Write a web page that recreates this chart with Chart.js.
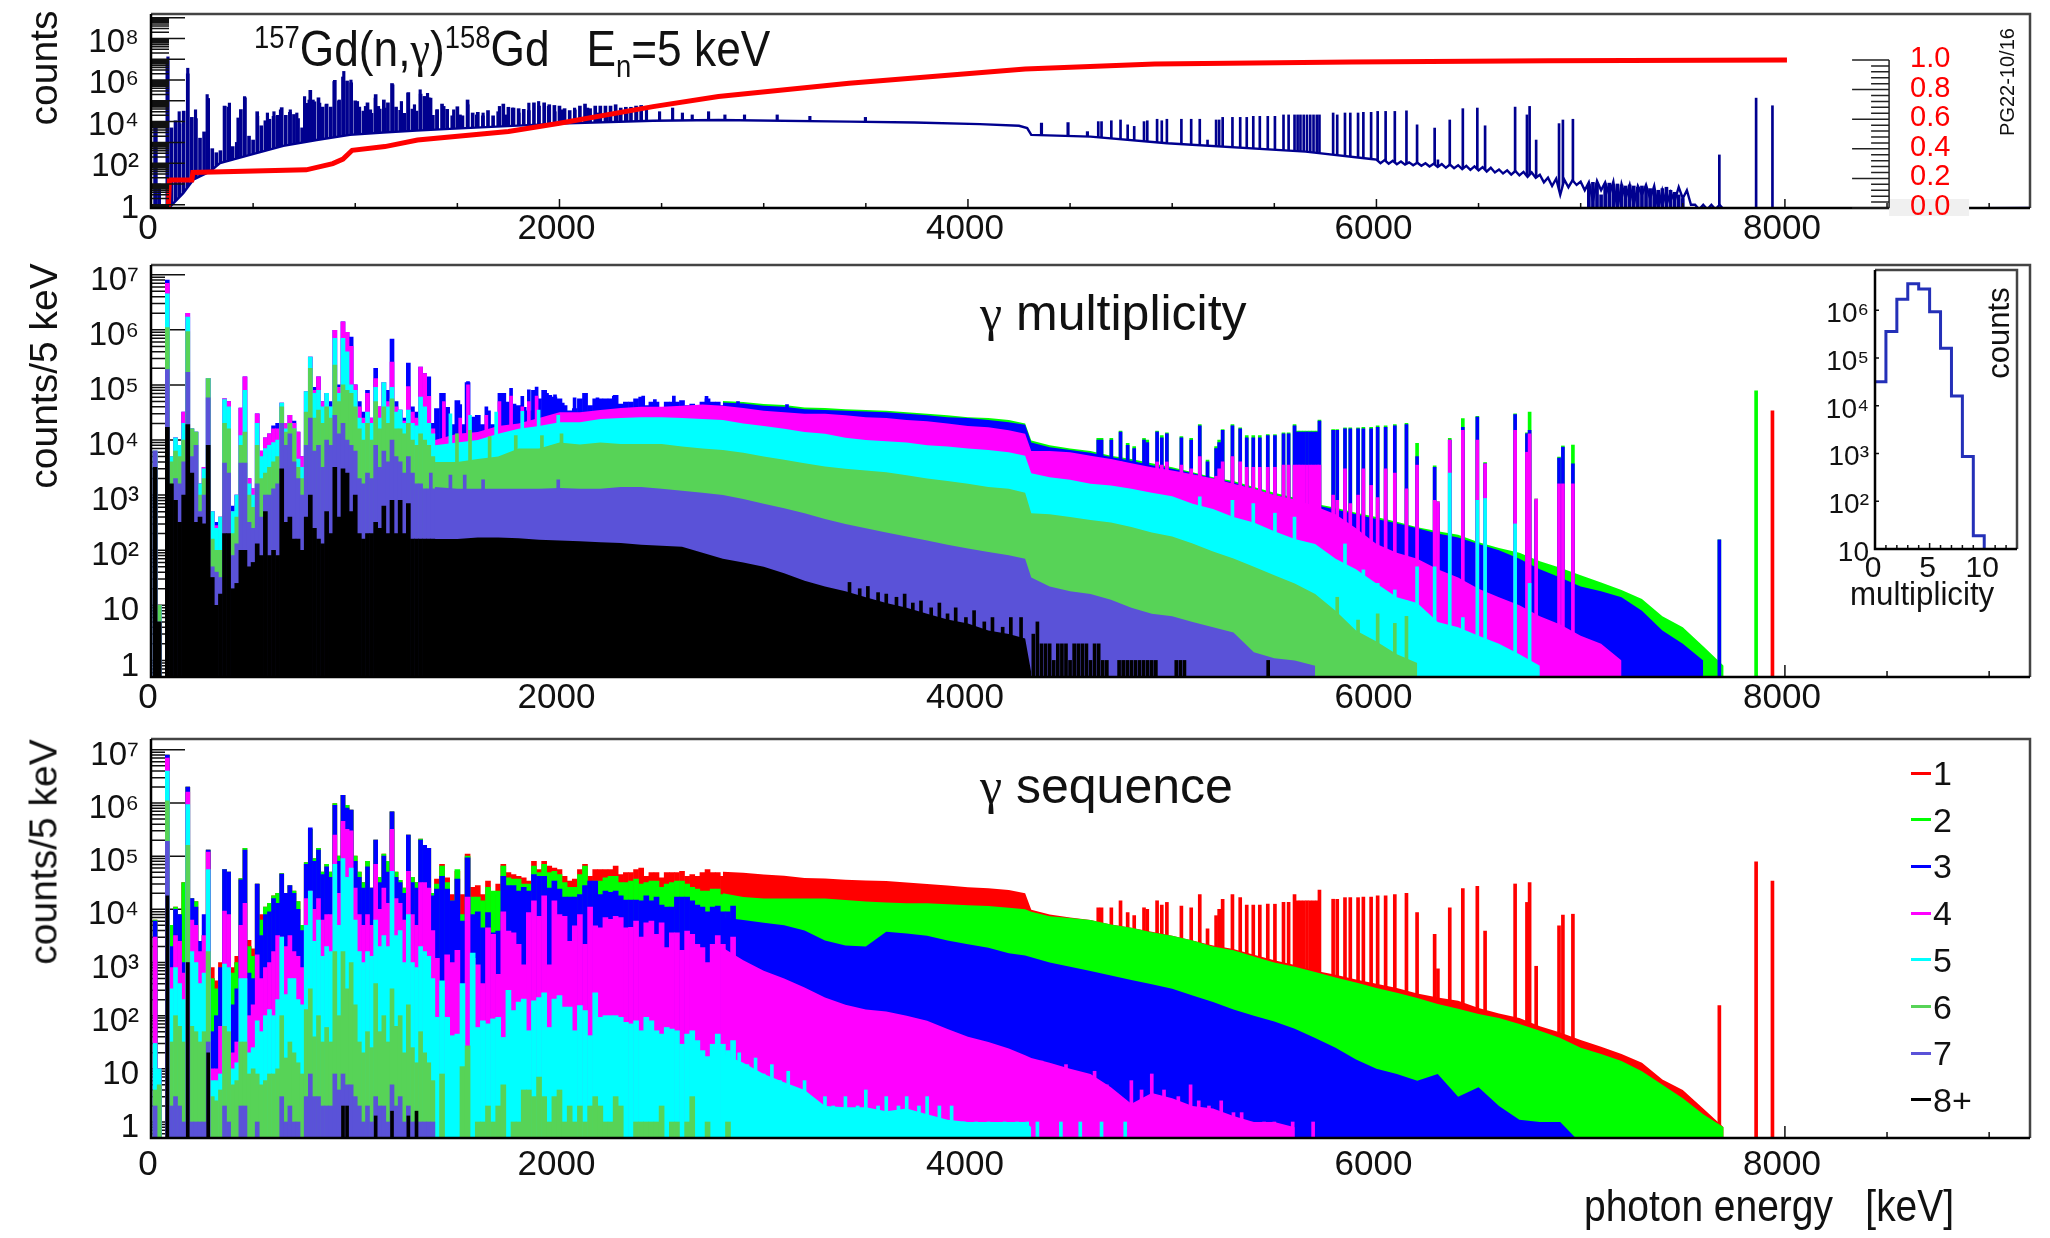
<!DOCTYPE html>
<html>
<head>
<meta charset="utf-8">
<title>157Gd(n,gamma)158Gd</title>
<script src="https://cdn.jsdelivr.net/npm/chart.js@4/dist/chart.umd.min.js"></script>
<style>
  html, body { margin: 0; background: #fff; }
  #page { position: relative; width: 2050px; height: 1238px; overflow: hidden; }
  canvas { position: absolute; }
  .t { position: absolute; white-space: pre; color: #111; font-family: "Liberation Sans", sans-serif; line-height: 1; transform-origin: left center; }
  .rot { transform-origin: center; transform: translate(-50%, -50%) rotate(-90deg); }
  .g { font-family: "Liberation Serif", serif; }
  sup, sub { font-size: 62%; line-height: 0; }
</style>
</head>
<body>
<div id="page">
  <canvas id="top" width="2050" height="250" style="left:0;top:0"></canvas>
  <canvas id="mid" width="2050" height="470" style="left:0;top:250px"></canvas>
  <canvas id="bot" width="2050" height="518" style="left:0;top:720px"></canvas>
  <canvas id="inset" width="230" height="320" style="left:1800px;top:260px"></canvas>
  <div class="t" style="left:254px;top:24px;font-size:50px;transform:scaleX(.885)"><sup>157</sup>Gd(n,<span class="g">γ</span>)<sup>158</sup>Gd   E<sub>n</sub>=5 keV</div>
  <div class="t" style="left:980px;top:288px;font-size:50px"><span class="g">γ</span> multiplicity</div>
  <div class="t" style="left:980px;top:761px;font-size:50px"><span class="g">γ</span> sequence</div>
  <div class="t rot" style="left:43px;top:68px;font-size:39px">counts</div>
  <div class="t rot" style="left:43px;top:376px;font-size:39px">counts/5 keV</div>
  <div class="t rot" style="left:43px;top:852px;font-size:39px">counts/5 keV</div>
  <div class="t rot" style="left:2007px;top:82px;font-size:20px">PG22-10/16</div>
  <div class="t" style="left:1584px;top:1183px;font-size:45px;transform:scaleX(.865)">photon energy   [keV]</div>
  <div class="t" style="left:1850px;top:576px;font-size:34px;transform:scaleX(.92)">multiplicity</div>
  <div class="t rot" style="left:1998px;top:333px;font-size:31px">counts</div>
</div>
<script>
/* --------------- Axis ticks and labels --------------------- */
const xMax = 9200;
const xTicks = [0, 2000, 4000, 6000, 8000];
const topYTicks = [1, 1e2, 1e4, 1e6, 1e8];
const fracTicks = [0, 0.2, 0.4, 0.6, 0.8, 1];
const specYTicks = [1, 10, 1e2, 1e3, 1e4, 1e5, 1e6, 1e7];
const insetYTicks = [10, 1e2, 1e3, 1e4, 1e5, 1e6];
const insetXTicks = [0, 5, 10];
const seqNames = ["1", "2", "3", "4", "5", "6", "7", "8+"];
const seqColors = ["#ff0000", "#00ff00", "#0000ff", "#ff00ff", "#00ffff", "#57d357", "#5a52d8", "#000000"];

/* --------------- Low energy bins, 20 keV apart (69 values per series) --------------------- */
const lowE = [20,40,60,80,100,120,140,160,180,200,220,240,260,280,300,320,340,360,380,400,420,440,460,480,500,520,540,560,580,600,620,640,660,680,700,720,740,760,780,800,820,840,860,880,900,920,940,960,980,1000,1020,1040,1060,1080,1100,1120,1140,1160,1180,1200,1220,1240,1260,1280,1300,1320,1340,1360,1380];
const lowTop = [6.3e3,10,0,8e6,5e3,1.1e4,8e3,3.2e4,2e6,1.6e4,1.4e4,1.6e3,3.2e3,1.3e5,500,320,400,5.6e4,5e4,630,1e3,3.8e4,1.4e5,2e3,1.3e3,3e4,6.3e3,1.1e4,1.3e4,1.8e4,2e4,4.7e4,2e4,2.8e4,2.2e4,1.4e4,5e3,7.6e4,3.2e5,9e4,1.4e5,5e4,7e4,5e4,9.8e5,1e5,1.4e6,9e5,7.4e5,1e5,5e4,3.2e4,8e4,2.5e4,2e5,4e4,1.1e5,8e4,6.8e5,5e4,3.5e4,2.5e4,2.5e5,4e4,3.2e4,2.1e5,1.6e5,1.4e5,2e4];
const lowM4 = [6.3e3,10,0,7e6,5e3,1.1e4,8e3,3.2e4,2e6,1.6e4,1.4e4,1.6e3,3.2e3,1.3e5,500,280,400,5.6e4,5e4,500,1e3,3.8e4,1.4e5,2e3,1.3e3,3e4,6.3e3,1.1e4,1.3e4,1.6e4,1.6e4,4.7e4,2e4,2.8e4,2e4,1.4e4,5e3,7.6e4,3.2e5,8e4,1.4e5,5e4,7e4,4e4,9.8e5,9e4,1.4e6,9e5,5e5,1e5,4e4,2.5e4,7e4,2.5e4,1.3e5,4e4,1.1e5,5e4,2.6e5,4e4,3.5e4,2.2e4,9.3e4,3.2e4,2.5e4,2.1e5,1.6e5,6.2e4,1.6e4];
const lowM5 = [6.3e3,10,0,4.5e6,5e3,1.1e4,8e3,2e4,1.7e6,1.6e4,1.4e4,1.6e3,3e3,1.3e5,500,250,400,5.4e4,4e4,500,1e3,1.2e4,8e4,1.6e3,1e3,2e4,5e3,7e3,8e3,9e3,1e4,4.7e4,1.6e4,2e4,1.6e4,4.5e3,3.2e3,7.6e4,3.2e5,7e4,8e4,4e4,7e4,4e4,7e5,7e4,7e5,4e5,1e5,8e4,2.5e4,2e4,3.2e4,2e4,9e4,2.5e4,1.1e5,4e4,9e4,3.2e4,3.5e4,2e4,3.5e4,2e4,1.8e4,6e4,4e4,2e4,1.3e4];
const lowM6 = [6.3e3,10,0,1.1e6,4e3,6.3e3,5e3,1e4,9.3e5,1.6e4,1.4e4,1e3,2e3,1.3e5,160,100,100,2e4,1.6e4,200,400,8e3,1.4e4,1e3,600,8e3,2e3,2.5e3,3.2e3,4e3,5e3,4e4,1.4e4,2e4,1.6e4,3.2e3,2e3,3.2e4,2e5,2.5e4,3.5e4,2e4,4e4,2.5e4,2.3e5,5e4,1e5,8e4,7e4,4e4,1.6e4,1e4,2e4,1e4,5e4,1.6e4,4e4,2e4,5.6e4,1.6e4,1.6e4,1.3e4,2e4,1e4,8e3,1.3e4,1e4,8e3,5e3];
const lowM7 = [6.3e3,5,0,1.9e5,1e3,2e3,1.6e3,4e3,1.7e5,5e3,8e3,500,1e3,5.8e4,50,40,32,3.8e3,2.5e3,80,130,3.8e3,3.8e3,320,250,1.6e3,400,1e3,1e3,1.3e3,1.6e3,2e4,8e3,1.3e4,4e3,2e3,1e3,8e3,2.5e4,6.3e3,8e3,3.2e3,1e4,8e3,2.8e4,1.3e4,2e4,1e4,8e3,6.3e3,2e3,1.6e3,2.5e3,2e3,8e3,3.2e3,6.3e3,4e3,1e4,5e3,4e3,2.5e3,5e3,2.5e3,1.6e3,1.6e3,1.3e3,1.3e3,1.3e3];
const lowM8 = [3.2e3,5,0,1.7e4,1.6e3,800,320,1e3,1.9e4,2.5e3,320,400,300,8e3,32,10,16,200,200,20,25,100,100,50,60,130,80,500,80,100,80,3e3,320,400,160,160,100,400,1e3,250,160,130,500,200,3.2e3,400,3e3,2.5e3,500,1e3,200,160,200,200,320,250,630,200,800,200,800,200,700,160,160,160,160,160,160];
const lowS3 = [6e3,10,0,8e6,2e3,1e4,8e3,1e3,2e6,1.6e4,1.1e4,2.5e3,8e3,1.3e5,50,100,800,5.6e4,5e4,160,320,3.6e4,1.3e5,630,500,3e4,3.2e3,8e3,9e3,1.6e4,1.3e4,4.6e4,2e4,2.8e4,2e4,1e4,4e3,7e4,3.4e5,8e4,1.3e5,4.5e4,6.3e4,4e4,9e5,8e4,1.4e6,8e5,7.4e5,8e4,4e4,2.5e4,6.3e4,2.5e4,2e5,3.2e4,1e5,5e4,6.8e5,4e4,3.2e4,2e4,2.5e5,3.2e4,2.5e4,2e5,1.6e5,1.4e5,1.8e4];
const lowS4 = [3e3,10,0,7e6,800,3.2e3,2.5e3,630,1.6e6,6.3e3,5e3,1.6e3,3.2e3,1.2e5,10,10,63,9.3e3,8e3,20,32,5e3,1.3e4,100,160,1.4e3,500,800,1e3,1.6e3,3.2e3,3e3,2e3,3.2e3,1.6e3,1.3e3,800,1.6e4,2.2e4,1e4,1.6e4,6.3e3,8e3,8e3,2.5e5,2e4,4.5e5,3.2e5,3e5,2.5e4,8e3,5e3,8e3,5e3,7e4,1e4,2.5e4,1.3e4,3.2e5,1.6e4,1.3e4,6.3e3,5.2e4,8e3,5e3,3.2e4,3.2e4,2.5e4,4e3];
const lowS5 = [30,10,0,4e6,320,800,400,200,9.3e5,1.6e3,1e3,400,630,5.6e4,6,6,8,930,800,10,13,500,500,20,25,80,50,100,130,100,200,3e3,250,500,500,200,160,5e3,2.2e4,2.5e3,6.3e3,1.3e3,2e3,1.6e3,7e4,5e3,9e4,4e4,6e4,6.3e3,1.6e3,1e3,1.6e3,1.3e3,6.3e3,2e3,3.2e3,2e3,5.2e4,3.2e3,4e3,1e3,8e3,1e3,800,2e3,1.6e3,1.3e3,500];
const lowS6 = [4,5,0,1.1e6,32,100,63,32,1.6e5,63,50,32,50,1.6e3,3,2.5,4,63,50,5,6,32,32,8,10,8,5,6,8,8,10,100,16,32,20,13,8,130,320,40,100,32,60,32,1.6e3,100,1.6e3,320,1e3,160,32,20,50,25,400,50,100,32,320,63,100,20,160,25,13,50,20,13,6];
const lowS7 = [2,0,0,1.9e5,2,3,2,1,1e3,1,1,1,1,32,0,0,0,2,1,0,0,2,2,0,0,1,0,0,0,0,0,3,1,2,1,1,0,3,8,3,3,2,2,2,8,4,8,5,5,3,2,1,2,1,3,2,2,1,5,2,3,1,2,1,1,1,1,1,1];
const seq8E = [80, 180, 280, 940, 960, 1100, 1180, 1260, 1300];
const seq8H = [1.8e4, 1e3, 20, 2, 2, 1.3, 1.6, 1.3, 1.6];
const seqRedE = [300, 320, 340, 400, 420, 480, 500, 540];
const seqRedH = [800, 450, 1e3, 800, 1.3e3, 2.6e3, 1.8e3, 8e3];

/* --------------- Jagged middle range, 25 keV apart (60 values per series) --------------------- */
const midE = [1375,1400,1425,1450,1475,1500,1525,1550,1575,1600,1625,1650,1675,1700,1725,1750,1775,1800,1825,1850,1875,1900,1925,1950,1975,2000,2025,2050,2075,2100,2125,2150,2175,2200,2225,2250,2275,2300,2325,2350,2375,2400,2425,2450,2475,2500,2525,2550,2575,2600,2625,2650,2675,2700,2725,2750,2775,2800,2825,2850];
const midTop = [1.9e4,3.7e4,7e4,3.9e4,1.9e4,5.2e4,1.9e4,1.1e5,2.6e4,2.8e4,
  1.9e4,3.4e4,1.9e4,3e4,7e4,4.9e4,4.5e4,4.2e4,3.9e4,3.4e4,
  8e4,5.6e4,8e4,6.5e4,6e4,5.6e4,4.2e4,3.4e4,3.7e4,5.6e4,
  7e4,4.2e4,5.6e4,5.6e4,5.6e4,5.6e4,6.5e4,4.5e4,4.9e4,4.9e4,
  5.6e4,6e4,4.2e4,4.9e4,4.9e4,3.9e4,4.9e4,4.9e4,4.9e4,5.2e4,
  4.2e4,4.5e4,4.2e4,4.9e4,5.6e4,4.9e4,4.9e4,4.2e4,3.7e4,4.2e4];
const midS2 = [7e3,3e4,6.5e4,3.2e4,1.45e4,5.6e4,8e3,1e5,1.7e4,1.7e4,
  1.45e4,2.6e4,2.2e4,2.2e4,6.5e4,3.9e4,3.7e4,3.7e4,3e4,3e4,
  6.5e4,4.9e4,7e4,4.9e4,5.2e4,4.5e4,3.2e4,2.6e4,2.6e4,4.5e4,
  6.5e4,2.8e4,3.4e4,3.4e4,3.9e4,4.2e4,4.2e4,3.2e4,3.2e4,3.4e4,
  3.7e4,3e4,3.2e4,3.4e4,3.4e4,2.6e4,3e4,3.2e4,3.4e4,3.4e4,
  3e4,2.6e4,2.4e4,2.2e4,2.2e4,2.4e4,2.4e4,1.9e4,1.8e4,1.5e4];
const midS3 = [1.7e4,2.4e4,4.2e4,2.4e4,1.45e4,3.7e4,6e3,9.3e4,8e3,9e3,
  4.5e3,8.7e3,3.6e3,3.9e3,4.2e4,2.8e4,2.8e4,2.2e4,2.6e4,2.2e4,
  4.5e4,4.2e4,4.2e4,2.5e4,3.4e4,2.4e4,1.7e4,1.7e4,1.7e4,1.9e4,
  2.8e4,3.4e4,3.4e4,1.9e4,2.2e4,2.1e4,2.2e4,1.8e4,1.5e4,1.5e4,
  1.5e4,1.45e4,1.8e4,1.45e4,1.7e4,1.2e4,1.1e4,1.1e4,1.7e4,1.7e4,
  1.7e4,1.45e4,1.2e4,1.1e4,9e3,1.1e4,1.15e4,9e3,9e3,1.15e4];
const midS4 = [1.7e3,1.2e3,340,1.4e3,1e3,1.7e3,340,1.7e4,1.2e3,900,
  400,4.5e3,3.4e3,600,9e3,3.9e3,3.6e3,2.2e3,900,8.7e3,
  1.45e4,7.4e3,1.8e4,900,1.45e4,8e3,7.4e3,2.5e3,4.9e3,8e3,
  2.2e3,1.1e4,4.9e3,4.5e3,7e3,6.5e3,7.4e3,7e3,4.5e3,4.6e3,
  6e3,3e3,5.6e3,6e3,3.4e3,5.6e3,1.9e3,3.6e3,3.6e3,1.7e3,
  3.9e3,3.4e3,2.2e3,1.9e3,1e3,2.2e3,3.2e3,2.2e3,1.5e3,3e3];
const midS5 = [60,93,450,93,42,45,400,19,1.5e3,60,
  80,70,87,93,39,300,125,180,205,52,
  190,220,270,60,205,240,145,145,52,155,
  125,42,270,93,100,100,100,93,75,70,
  80,52,93,80,52,45,60,56,52,29,
  45,52,34,22,17,29,45,29,22,34];
const midS6 = [2,0,8,0,0,0,11,27,0,1,1,2,1,2,5,0,1,1,4,4,3,7,3,1,3,4,1,2,1,2,1,2,3,2,1,1,3,2,0,0,1,1,1,1,1,2,0,1,1,0,1,3,0,0,1,0,0,0,1,0];

/* --------------- Continuum --------------------- */
const contE = [1390,1500,1600,1700,1800,1900,2000,2100,2200,2300,2400,2500,2600,2700,2800,2900,3000,3100,3200,3300,3400,3500,3600,3700,3800,3900,4000,4100,4200,4280,4310,4400,4500,4600,4700,4800,4900,5000,5100,5200,5300,5400,5500,5600,5700,5800,5900,6000,6100,6200,6300,6400,6500,6600,6700,6800,6900,7000,7100,7200,7300,7400,7500,7600,7700];
const totalTop = [1.8e4,2.1e4,2.4e4,2.7e4,3.4e4,4.3e4,4.8e4,4.3e4,4.8e4,5.1e4,5.6e4,5.4e4,5.6e4,5.6e4,5.1e4,4.9e4,4.5e4,4.3e4,3.9e4,3.8e4,3.6e4,3.5e4,3.4e4,3.2e4,3e4,2.8e4,2.6e4,2.5e4,2.3e4,2e4,9.8e3,8e3,7e3,6.3e3,5.2e3,4.5e3,3.8e3,3.2e3,2.6e3,2.1e3,1.8e3,1.4e3,1.1e3,900,700,590,480,400,330,260,220,190,140,110,90,63,48,35,26,19,13,6.3,4,1.8,0.8];
const multM3 = [1.6e4,2e4,2.2e4,2.5e4,3.2e4,4e4,4.5e4,4e4,4.5e4,4.8e4,5.2e4,5e4,5.2e4,5.2e4,4.8e4,4.6e4,4.2e4,4e4,3.6e4,3.5e4,3.4e4,3.3e4,3.2e4,3e4,2.8e4,2.6e4,2.5e4,2.3e4,2.1e4,1.9e4,9e3,7.4e3,6.6e3,5.9e3,4.9e3,4.2e3,3.5e3,3e3,2.5e3,2e3,1.7e3,1.3e3,1e3,830,660,550,450,370,310,250,200,170,130,100,70,45,32,22,18,14,8,3.5,2,1];
const multM4 = [1e4,1.3e4,1.4e4,1.8e4,2e4,2.5e4,3.2e4,3.2e4,3.5e4,3.8e4,4e4,4e4,4.2e4,4.4e4,4.2e4,3.8e4,3.4e4,3.2e4,3e4,3e4,2.8e4,2.6e4,2.5e4,2.3e4,2.2e4,2e4,1.8e4,1.7e4,1.5e4,1.3e4,6.3e3,6.3e3,6e3,5.2e3,4.5e3,3.8e3,3.2e3,2.8e3,2.4e3,2e3,1.6e3,1.3e3,1e3,830,630,450,250,130,90,70,45,32,20,14,10,6.3,4.5,2.8,2,1];
const multM5 = [8e3,9e3,1e4,1.3e4,1.6e4,1.8e4,2.1e4,2.1e4,2.4e4,2.5e4,2.6e4,2.6e4,2.5e4,2.4e4,2.3e4,2e4,1.8e4,1.6e4,1.4e4,1.3e4,1.1e4,1e4,9.5e3,9e3,8e3,7.6e3,7e3,6.6e3,6e3,5.2e3,2.5e3,2.1e3,1.9e3,1.6e3,1.5e3,1.3e3,1.1e3,950,700,560,400,320,220,160,130,70,45,25,14,11,5,4,2.8,2,1.3,0.8];
const multM6 = [4e3,4e3,4.5e3,5e3,7e3,7e3,9e3,8.3e3,9e3,8.5e3,8.5e3,8.5e3,7.6e3,7e3,6.6e3,5.9e3,5e3,4.4e3,3.8e3,3.3e3,3e3,2.8e3,2.6e3,2.3e3,2e3,1.8e3,1.6e3,1.4e3,1.3e3,1.1e3,470,450,400,355,320,263,209,178,132,95,71,50,35,25,16,8,3.5,2.2,1.3,0.9];
const multM7 = [1.4e3,1.3e3,1.3e3,1.3e3,1.3e3,1.3e3,1.35e3,1.3e3,1.3e3,1.4e3,1.4e3,1.3e3,1.2e3,1.1e3,1e3,850,700,575,470,370,300,250,210,178,150,125,107,93,81,70,32,22,18,16,12.6,9,7,6.3,5,4,3.2,1.4,1.1,1,0.8];
const multM8 = [160,160,170,170,165,155,150,145,140,135,125,120,115,90,70,60,50,38,28,22,18,14,11,9,7,5.5,4.7,3.5,3,2.5,0.6];
const seqS2 = [1.6e4,1.8e4,2e4,2.5e4,2.8e4,3.2e4,3.3e4,3.2e4,3.5e4,3.7e4,3.8e4,3.5e4,3.3e4,2.8e4,2e4,1.7e4,1.6e4,1.6e4,1.6e4,1.6e4,1.5e4,1.4e4,1.35e4,1.3e4,1.3e4,1.25e4,1.2e4,1.15e4,1.07e4,1e4,9e3,7.4e3,6.9e3,6.3e3,5.2e3,4.5e3,3.7e3,3.2e3,2.6e3,2e3,1.7e3,1.3e3,1e3,830,660,525,420,330,270,215,165,135,107,90,70,52,38,25,19,14,9,5,2.8,1.4,0.8];
const seqS3 = [1.3e4,1.6e4,2e4,2.5e4,2e4,2.5e4,2.2e4,1.8e4,2.3e4,2.1e4,1.9e4,1.3e4,8.5e3,7e3,7e3,6.3e3,5.6e3,5e3,4e3,2.6e3,2.1e3,2e3,3.8e3,3.5e3,3.2e3,2.6e3,2.2e3,1.9e3,1.5e3,1.35e3,1.25e3,1e3,830,690,570,470,390,320,240,180,130,100,78,57,38,25,15,10,8,6,8,3,4.5,2,1.1,1,1,0.4];
const seqS4 = [2e3,1.6e3,2e3,3.2e3,4e3,8e3,8e3,5e3,8e3,7e3,4.5e3,4e3,3e3,2.5e3,1.9e3,1.1e3,700,500,340,220,160,130,120,100,80,56,40,32,24,18,16,13,10,8,4.5,2.2,3.5,2.8,2,1.8,1.3,1,1,0.8];
const seqS5 = [320,130,100,110,160,200,160,200,100,100,90,70,52,35,19,13,8,5.6,4,2,1.9,1.9,1.6,1.8,1.4,1.1,1,1,1,1,0.8];

/* --------------- Peaks on the continuum --------------------- */
const ridgeE = [1434,1514,1552,1642,1706,1763,1818,1850,1888,1939,1978,2016,2074,2128,2186,2266,2410,2467,2560,2720,2874,3114];
const ridgeH = [7e4,4.4e4,1.15e5,4e4,7e4,8.7e4,6.2e4,8.1e4,9.1e4,7e4,6.6e4,4.7e4,5.8e4,7e4,5.8e4,6.2e4,6.3e4,5.4e4,6.3e4,6.2e4,5e4,4.4e4];
const ridgeM4 = [5e4,2.5e4,1e5,2.8e4,5e4,6.3e4,4e4,5e4,6.3e4];
const mult5RidgeE = [1466, 1562, 1690, 1818, 1898, 1994];
const mult5RidgeH = [3e4, 2.8e4, 3.2e4, 3.3e4, 3.5e4, 2.8e4];
const mult6RidgeE = [1498, 1562, 1658, 1786, 1914, 2010];
const mult6RidgeH = [1.3e4, 1.5e4, 1.15e4, 1.2e4, 1.2e4, 1.3e4];
const mult7RidgeE = [1370, 1466, 1536, 1626, 1994];
const mult7RidgeH = [2.5e3, 2.3e3, 2.3e3, 1.9e3, 1.9e3];
const priE = [4638,4654,4702,4747,4782,4814,4862,4878,4926,4949,
  4974,5045,5093,5135,5173,5215,5230,5247,5295,5333,
  5365,5397,5429,5468,5503,5545,5570,5599,5614,5628,
  5644,5660,5676,5692,5708,5721,5788,5808,5846,5872,
  5910,5936,5974,6006,6045,6090,6147,6199,6285,6301,
  6359,6423,6494,6532,6679,6737,6750,6782,6894,6913,
  6962,7679,7859,7939];
const priH = [1.07e4,1.07e4,1.07e4,1.45e4,8.7e3,7.6e3,1.07e4,1e4,1.45e4,1.2e4,
  1.35e4,1.15e4,1.07e4,1.9e4,4.3e3,7.6e3,1e4,1.55e4,1.9e4,1.66e4,
  1.2e4,1.2e4,1.2e4,1.25e4,1.25e4,1.35e4,1.35e4,1.9e4,1.45e4,1.45e4,
  1.45e4,1.45e4,1.45e4,1.45e4,1.45e4,2.3e4,1.55e4,1.55e4,1.66e4,1.66e4,
  1.66e4,1.7e4,1.7e4,1.8e4,1.8e4,1.9e4,2e4,8.7e3,3.4e3,760,
  1.07e4,2.45e4,2.7e4,3.9e3,3e4,1.35e4,3.2e4,850,4.9e3,7.8e3,
  8.1e3,155,7.8e4,3.4e4];
const priM3 = [1e4,1e4,1e4,1.4e4,8e3,7e3,1e4,9e3,1.4e4,1.1e4,
  1.3e4,1.1e4,1e4,1.8e4,4e3,7e3,9e3,1.5e4,1.8e4,1.6e4,
  1.1e4,1.1e4,1.1e4,1.2e4,1.2e4,1.3e4,1.3e4,1.8e4,1.4e4,1.4e4,
  1.4e4,1.4e4,1.4e4,1.4e4,1.4e4,2.2e4,1.5e4,1.5e4,1.6e4,1.6e4,
  1.6e4,1.6e4,1.6e4,1.7e4,1.7e4,1.8e4,1.9e4,5e3,3.2e3,700,
  1e4,1.7e4,2.6e4,3.7e3,2.9e4,1.3e4,1.5e4,800,4.7e3,7.4e3,
  3.7e3,155,0,0];
const priM4 = [3.2e3,3.2e3,3.2e3,4e3,2.5e3,2e3,3e3,3e3,4e3,3.5e3,
  4e3,3.5e3,3e3,5e3,1e3,2.2e3,3e3,4e3,5e3,4e3,
  3.2e3,3.2e3,3.2e3,3.2e3,3.2e3,3.5e3,3.5e3,3.5e3,3.5e3,3.5e3,
  3.5e3,3.5e3,3.5e3,3.5e3,3.5e3,3.5e3,1e3,800,3e3,700,
  1e3,3e3,1.5e3,900,3e3,2.5e3,1.3e3,3.5e3,800,760,
  1e4,1.5e4,1e4,3.7e3,1.5e4,6e3,1.3e4,850,1.6e3,1.6e3,
  1.6e3,0,0,0];
const mult5SpikeE = [5135,5295,5397,5503,5599,5721,5846,5936,6006,6090,6147,6199,6285,6359,6423,6494,6532,6679,6750];
const mult5SpikeH = [930,800,700,470,400,100,130,44,25,19,12,50,50,2.5e3,6,800,870,300,25];
const mult6SpikeE = [5365, 5545, 5660, 5808, 5910, 6006, 6090, 6147];
const mult6SpikeH = [4, 8, 4.7, 14, 5.4, 7, 4.7, 6.3];
const mult8TeethE = [3420,3470,3510,3560,3600,3650,3690,3730,3770,3820,3860,3900,3940,3990,4030,4080,4120,4170,4210,4260,4320,4340,4360,4380,4400,4420,4440,4460,4480,4500,4520,4540,4560,4580,4600,4620,4640,4660,4680,4740,4760,4780,4800,4820,4840,4860,4880,4900,4920,5020,5040,5060,5470];
const mult8TeethH = [26,20,22,17,16,14,16,11,12,9,11,7,9,6,8,5,6,4,6,6,3,5,2,2,2,1,2,2,2,1,2,2,2,2,1,2,2,1,1,1,1,1,1,1,1,1,1,1,1,1,1,1,1];
const seq5SpikeE = [2880,2920,2960,3000,3040,3080,3120,3160,3200,3260,3300,3340,3400,3460,3500,3560,3600,3660,3700,3760,3800,3860,3920,3980,4040,4100,4180,4240,4290,4340,4455,4550,4654,4770];
const seq5SpikeH = [20,12,16,8,12,6,9,4,6,2,3,2,3,2,4,2,3,2,3,2,3,2,2,1,1,1,1,1,1,1,1,1,1,1];
const seq4SpikeE = [4360,4420,4480,4560,4620,4680,4720,4800,4850,4900,4960,5030,5090,5130,5180,5240,5300,5340,5450,5500,5590,5690];
const seq4SpikeH = [14,10,12,8,9,5,3,6,4,8,4,3,5,2.5,2,2.5,1.5,1.5,1,1,1,1];

/* --------------- Top panel, finer bins --------------------- */
const pk1E = [25,83,138,180,218,275,362,384,426,458,522,570,602,634,682,714,752,774,794,826,858,896,922,944,979,1011,1050,1075,1098,1114,1146,1184,1226,1258,1290,1318,1338,1354,1370,1402,1434,1482,1514,1552,1594,1626,1706,1738,1770,1802,1850,1898,1946,1978,2010,2074,2138,2186,2234,2282,2330,2378,2426,2490,2554,2602,2650,2730,2810,2906,3066,3226,3498,4360,4490,4585];
const pk1H = [8.5e3,1.3e7,3e4,3.7e6,3.7e4,2e5,5.4e4,7.8e4,1.5e4,1.6e5,1.8e4,2.6e4,3e4,3.7e4,3.7e4,2.6e4,1.6e5,1.1e5,1.1e5,7.8e4,6.5e4,8.5e5,1.1e5,2.6e6,1e6,9.3e4,5.4e4,3.7e4,1.35e5,5.4e4,4.5e4,5.9e5,9.3e4,2.3e5,6.5e4,3.4e5,1.6e5,2.3e5,1.35e5,3.7e4,5.4e4,3.7e4,2.1e4,6.5e4,2.1e4,2.6e4,5.4e4,2.1e4,4.5e4,2.6e4,7.8e4,9.3e4,5.4e4,3e4,3.7e4,4.5e4,4.5e4,2.6e4,2.1e4,3e4,3e4,3e4,3.7e4,3e4,4.5e4,2.6e4,2.1e4,3e4,2.1e4,2.1e4,2.1e4,1.8e4,1.6e4,8.5e3,9e3,3.3e3];
const pri1H = [1e4,1e4,1.1e4,1.2e4,7e3,5.9e3,1e4,1.1e4,1.3e4,1.1e4,
  1.3e4,1.3e4,1.3e4,1.3e4,1.3e3,1.2e4,1.2e4,1.6e4,1.6e4,1.6e4,
  1.6e4,1.8e4,1.8e4,1.8e4,1.8e4,2.1e4,2.1e4,2.1e4,2.1e4,2.1e4,
  2.1e4,2.1e4,2.1e4,2.1e4,2.1e4,2.1e4,2.6e4,2.1e4,2.6e4,2.6e4,
  2.6e4,2.8e4,2.8e4,3.1e4,3.1e4,3.1e4,3.3e4,7e3,4.9e3,145,
  1.2e4,4.2e4,4.5e4,6.3e3,5e4,2.1e4,5.4e4,1.3e3,8e3,1.2e4,
  1.3e4,250,1.35e5,5.8e4];
const specE = [20,93,158,207,289,338,485,648,811,974,1137,1300,1463,2000,2458,2778,3418,3738,4058,4250,4290,4310,4600,4975,5653,5974,
  6000,6020,6040,6060,6080,6100,6120,6140,6160,6180,
  6200,6220,6240,6260,6280,6300,6320,6340,6360,6380,
  6400,6420,6440,6460,6480,6500,6520,6540,6560,6580,
  6600,6620,6640,6660,6680,6700,6720,6740,6760,6780,
  6800,6820,6840,6860,6880,6900,6920,6940,6960,6980,
  7000,7020,7040,7060,7080,7100,7120,7140,7160,7180,
  7200,7220,7240,7260,7280,7300,7320,7340,7360,7380,
  7400,7420,7440,7460,7480,7500,7520,7540,7560,7580,
  7600,7620,7640,7660,7680,7700,7720,9200];
const specCounts = [0.7,0.8,3.6,16,40,100,250,680,1.3e3,2.3e3,3e3,3.7e3,4.5e3,8e3,1.1e4,1.2e4,1e4,9e3,7.6e3,6.3e3,4.9e3,2.3e3,1.9e3,910,360,160,
  150,100,140,95,130,90,120,85,110,80,
  105,75,100,70,95,65,90,60,85,58,
  80,52,75,48,70,45,65,40,60,36,
  50,32,45,28,42,26,38,22,36,20,
  28,12,20,8,18,3,16,7,15,9,
  13,5,12,1.5,14,5,12,3,13,0.6,
  10,2,9,1,8,3,9,2,8,0.6,
  5,1,4,1.5,7,2,5,1,1,0.6,
  1,0.6,1,0.6,1,0.6,0.6,0.7];
const noiseE = [7040,7060,7080,7100,7120,7140,7160,7180,7200,7220,7240,7260,7280,7300,7320,7340,7360,7380,7400,7420,7440,7460,7480,7500];
const noiseH = [10,12,11,3,10,11,9,10,9,8,9,8,7,8,6,6,5,5,6,7,5,4,3,2];
const fracE = [0,85,90,200,205,760,890,940,985,1145,1305,1750,2000,2458,2778,3418,4280,4915,5878,6840,8010];
const fracV = [0,0,0.19,0.19,0.24,0.258,0.30,0.33,0.39,0.415,0.46,0.517,0.573,0.685,0.753,0.843,0.94,0.973,0.987,0.995,1];

/* --------------- Inset --------------------- */
const multBins = [0, 1, 2, 3, 4, 5, 6, 7, 8, 9, 10];
const multCounts = [3.2e4, 3.6e5, 1.7e6, 3.6e6, 2.8e6, 9.3e5, 1.6e5, 1.6e4, 870, 19, 10];

/* --------------- Helpers --------------------- */
const sansFont = "'Liberation Sans', sans-serif";
const supDigits = "⁰¹²³⁴⁵⁶⁷⁸⁹";
const powerLabel = (v) => {
  const e = Math.round(Math.log10(v));
  return e === 0 ? "1" : e === 1 ? "10" : "10" + supDigits[e];
};
const area = (ys, color, order, from = 0) => ({
  type: "line",
  data: ys.map((y, i) => ({ x: contE[i], y })).slice(from),
  backgroundColor: color,
  borderWidth: 0,
  fill: "start",
  pointRadius: 0,
  order,
});
const spikes = (xs, ys, color, order, w = 4) => ({
  type: "bar",
  data: xs.map((x, i) => ({ x, y: ys[i] })).filter((p) => p.y > 0),
  backgroundColor: color,
  barThickness: w,
  grouped: false,
  order,
});

/* --------------- ROOT style ticks and frame --------------------- */
const rootFrame = {
  id: "rootFrame",
  drawTicks(chart, o) {
    const { ctx, chartArea: a, scales } = chart;
    ctx.save();
    ctx.strokeStyle = "#111";
    ctx.lineWidth = o.tickWidth || 1.5;
    ctx.beginPath();
    for (let v = 0; v <= scales.x.max; v += o.xMinorStep) {
      const px = scales.x.getPixelForValue(v);
      const len = v % o.xMajorStep === 0 ? o.xMajorLen : o.xMinorLen;
      ctx.moveTo(px, a.bottom);
      ctx.lineTo(px, a.bottom - len);
    }
    const y = scales.y;
    for (let d = Math.floor(Math.log10(y.min)); d <= Math.log10(y.max); d++) {
      for (let m = 1; m < 10; m++) {
        const v = m * 10 ** d;
        if (v < y.min || v > y.max) continue;
        const py = y.getPixelForValue(v);
        ctx.moveTo(a.left, py);
        ctx.lineTo(a.left + (m === 1 ? o.yMajorLen : o.yMinorLen), py);
      }
    }
    ctx.stroke();
    ctx.restore();
  },
  beforeDatasetsDraw(chart, args, o) {
    if (!o.front) this.drawTicks(chart, o);
  },
  afterDatasetsDraw(chart, args, o) {
    const { ctx, chartArea: a } = chart;
    if (o.front) this.drawTicks(chart, o);
    ctx.save();
    ctx.lineWidth = o.frameWidth || 2.5;
    ctx.strokeStyle = "#444";
    ctx.beginPath();
    ctx.moveTo(a.left, a.top);
    ctx.lineTo(a.right, a.top);
    ctx.lineTo(a.right, a.bottom);
    ctx.stroke();
    ctx.strokeStyle = "#000";
    ctx.beginPath();
    ctx.moveTo(a.left, a.top);
    ctx.lineTo(a.left, a.bottom);
    ctx.lineTo(a.right, a.bottom);
    ctx.stroke();
    if (o.fracAxisAt) {
      // red fraction axis that sits inside the top panel
      const f = chart.scales.y2;
      const ax = chart.scales.x.getPixelForValue(o.fracAxisAt);
      ctx.fillStyle = "#f0f0f0";
      ctx.fillRect(ax, f.getPixelForValue(0) - 9, 80, 17);
      ctx.strokeStyle = "#222";
      ctx.lineWidth = 1.5;
      ctx.beginPath();
      ctx.moveTo(ax, f.getPixelForValue(0));
      ctx.lineTo(ax, f.getPixelForValue(1));
      for (let i = 0; i <= 25; i++) {
        const py = f.getPixelForValue(i / 25);
        ctx.moveTo(ax, py);
        ctx.lineTo(ax - (i % 5 === 0 ? 37 : 18), py);
      }
      ctx.stroke();
      ctx.fillStyle = "#ff0000";
      ctx.font = "29px " + sansFont;
      ctx.textBaseline = "middle";
      ctx.textAlign = "left";
      fracTicks.forEach((v) => ctx.fillText(v.toFixed(1), ax + 21, f.getPixelForValue(v) - 1));
    }
    ctx.restore();
  },
};

function baseOptions(leftWidth, paddingTop, paddingRight, xHeight, xCfg, yCfg, frame) {
  return {
    responsive: false,
    animation: false,
    devicePixelRatio: 1,
    layout: { autoPadding: false, padding: { top: paddingTop, right: paddingRight, left: 0, bottom: 0 } },
    plugins: { legend: { display: false }, tooltip: { enabled: false }, rootFrame: frame },
    scales: {
      x: {
        type: "linear",
        min: xCfg.min,
        max: xCfg.max,
        offset: false,
        grid: { display: false, drawTicks: false, offset: false },
        border: { display: false },
        afterBuildTicks: (s) => { s.ticks = xCfg.ticks.map((value) => ({ value })); },
        afterFit: (s) => { s.height = xHeight; s.paddingLeft = 0; s.paddingRight = 0; },
        ticks: { autoSkip: false, maxRotation: 0, padding: xCfg.pad, labelOffset: xCfg.off, color: "#111", font: { family: sansFont, size: xCfg.size }, callback: (v) => String(v) },
      },
      y: {
        type: "logarithmic",
        min: yCfg.min,
        max: yCfg.max,
        grid: { display: false, drawTicks: false },
        border: { display: false },
        afterBuildTicks: (s) => { s.ticks = yCfg.ticks.map((value) => ({ value })); },
        afterFit: (s) => { s.width = leftWidth; s.paddingTop = 0; s.paddingBottom = 0; },
        ticks: { autoSkip: false, padding: yCfg.pad, labelOffset: yCfg.off, color: "#111", font: { family: sansFont, size: yCfg.size }, callback: (v) => powerLabel(v) },
      },
    },
  };
}

const specX = { min: 0, max: xMax, ticks: xTicks, pad: 0, off: -3, size: 35 };
const specFrame = { xMinorStep: 500, xMajorStep: 2000, xMajorLen: 12, xMinorLen: 6, yMajorLen: 34, yMinorLen: 14 };

/* --------------- Top panel: total spectrum and cumulative fraction --------------------- */
const topOptions = baseOptions(151, 14, 20, 42, specX,
  { min: 0.7, max: 1.5e9, ticks: topYTicks, pad: 12, off: 4, size: 33 },
  { ...specFrame, xMajorLen: 9, xMinorLen: 5, yMinorLen: 18, front: true, fracAxisAt: 8510 });
topOptions.scales.y2 = { type: "linear", display: false, min: 0, max: 1.311 };
new Chart(document.getElementById("top"), {
  type: "bar",
  plugins: [rootFrame],
  data: {
    datasets: [
      { type: "line", yAxisID: "y2", data: fracE.map((x, i) => ({ x, y: fracV[i] })), borderColor: "#ff0000", borderWidth: 5, pointRadius: 0, fill: false, order: 1 },
      spikes(noiseE, noiseH, "#00008f", 1.5, 3),
      { type: "line", data: specE.map((x, i) => ({ x, y: specCounts[i] })), borderColor: "#00008f", backgroundColor: "#ffffff", borderWidth: 2.4, pointRadius: 0, fill: "start", order: 2 },
      spikes(lowE, lowTop, "#00008f", 3, 3),
      spikes(midE.slice(0, 42), midTop, "#00008f", 3, 3),
      spikes(pk1E, pk1H, "#00008f", 3, 2.5),
      spikes(priE, pri1H, "#00008f", 3, 2),
    ],
  },
  options: topOptions,
});

/* --------------- Middle panel: multiplicity, highest layer first --------------------- */
new Chart(document.getElementById("mid"), {
  type: "bar",
  plugins: [rootFrame],
  data: {
    datasets: [
      spikes([7939], [3.4e4], seqColors[0], 90, 3),
      area(totalTop, seqColors[1], 80, 14),
      spikes(priE.slice(0, 63), priH, seqColors[1], 80, 3),
      area(multM3, seqColors[2], 70, 14),
      spikes(lowE, lowTop, seqColors[2], 70),
      spikes(midE, midTop, seqColors[2], 70, 5),
      spikes(ridgeE, ridgeH, seqColors[2], 70, 3),
      spikes(priE, priM3, seqColors[2], 70, 3),
      area(multM4, seqColors[3], 60),
      spikes(lowE, lowM4, seqColors[3], 60),
      spikes(ridgeE, ridgeM4, seqColors[3], 60, 3),
      spikes(priE, priM4, seqColors[3], 60, 3),
      area(multM5, seqColors[4], 50),
      spikes(lowE, lowM5, seqColors[4], 50),
      spikes(mult5RidgeE, mult5RidgeH, seqColors[4], 50, 3),
      spikes(mult5SpikeE, mult5SpikeH, seqColors[4], 50, 3),
      area(multM6, seqColors[5], 40),
      spikes(lowE, lowM6, seqColors[5], 40),
      spikes(mult6RidgeE, mult6RidgeH, seqColors[5], 40, 3),
      spikes(mult6SpikeE, mult6SpikeH, seqColors[5], 40, 3),
      area(multM7, seqColors[6], 30),
      spikes(lowE, lowM7, seqColors[6], 30),
      spikes(mult7RidgeE, mult7RidgeH, seqColors[6], 30, 3),
      area(multM8, seqColors[7], 20),
      spikes(lowE, lowM8, seqColors[7], 20),
      spikes(mult8TeethE, mult8TeethH, seqColors[7], 20, 3),
    ],
  },
  options: baseOptions(151, 15, 20, 43, specX,
    { min: 0.5, max: 1.5e7, ticks: specYTicks, pad: 12, off: 6, size: 33 }, specFrame),
});

/* --------------- Bottom panel: sequence --------------------- */
new Chart(document.getElementById("bot"), {
  type: "bar",
  plugins: [rootFrame],
  data: {
    datasets: [
      area(totalTop, seqColors[0], 90, 14),
      spikes(lowE, lowTop, seqColors[0], 90),
      spikes(seqRedE, seqRedH, seqColors[0], 90),
      spikes(midE, midTop, seqColors[0], 90, 5),
      spikes(priE, priH, seqColors[0], 90, 3),
      area(seqS2, seqColors[1], 80, 14),
      spikes(lowE, lowTop, seqColors[1], 80),
      spikes(midE, midS2, seqColors[1], 80, 5),
      area(seqS3, seqColors[2], 70, 14),
      spikes(lowE, lowS3, seqColors[2], 70),
      spikes(midE, midS3, seqColors[2], 70, 5),
      area(seqS4, seqColors[3], 60, 14),
      spikes(lowE, lowS4, seqColors[3], 60),
      spikes(midE, midS4, seqColors[3], 60, 5),
      spikes(seq4SpikeE, seq4SpikeH, seqColors[3], 60, 3),
      area(seqS5, seqColors[4], 50, 14),
      spikes(lowE, lowS5, seqColors[4], 50),
      spikes(midE, midS5, seqColors[4], 50, 5),
      spikes(seq5SpikeE, seq5SpikeH, seqColors[4], 50, 3),
      spikes(lowE, lowS6, seqColors[5], 40),
      spikes(midE, midS6, seqColors[5], 40, 5),
      spikes(lowE, lowS7, seqColors[6], 30),
      spikes(seq8E, seq8H, seqColors[7], 20, 3),
    ],
  },
  options: baseOptions(151, 19, 20, 100, { ...specX, pad: 6 },
    { min: 0.5, max: 1.6e7, ticks: specYTicks, pad: 12, off: 6, size: 33 }, specFrame),
});

/* --------------- Inset --------------------- */
new Chart(document.getElementById("inset"), {
  type: "line",
  plugins: [rootFrame],
  data: {
    datasets: [
      { data: multBins.map((x, i) => ({ x, y: multCounts[i] })), borderColor: "#2430b8", borderWidth: 3, stepped: true, pointRadius: 0, fill: false },
    ],
  },
  options: baseOptions(75, 10, 13, 31,
    { min: 0, max: 13, ticks: insetXTicks, pad: 2, off: -2, size: 30 },
    { min: 10, max: 7e6, ticks: insetYTicks, pad: 6, off: 4, size: 28 },
    { xMinorStep: 1, xMajorStep: 5, xMajorLen: 6, xMinorLen: 4, yMajorLen: 4, yMinorLen: 0 }),
});

/* --------------- Legend of the sequence panel --------------------- */
const page = document.getElementById("page");
seqNames.forEach((name, i) => {
  const y = 773 + i * 46.7;
  const dash = document.createElement("div");
  dash.style.cssText = `position:absolute;left:1911px;top:${y - 1.5}px;width:20px;height:3px;background:${seqColors[i]}`;
  const label = document.createElement("div");
  label.className = "t";
  label.textContent = name;
  label.style.cssText = `left:1933px;top:${y - 17}px;font-size:34px`;
  page.append(dash, label);
});
</script>
</body>
</html>
